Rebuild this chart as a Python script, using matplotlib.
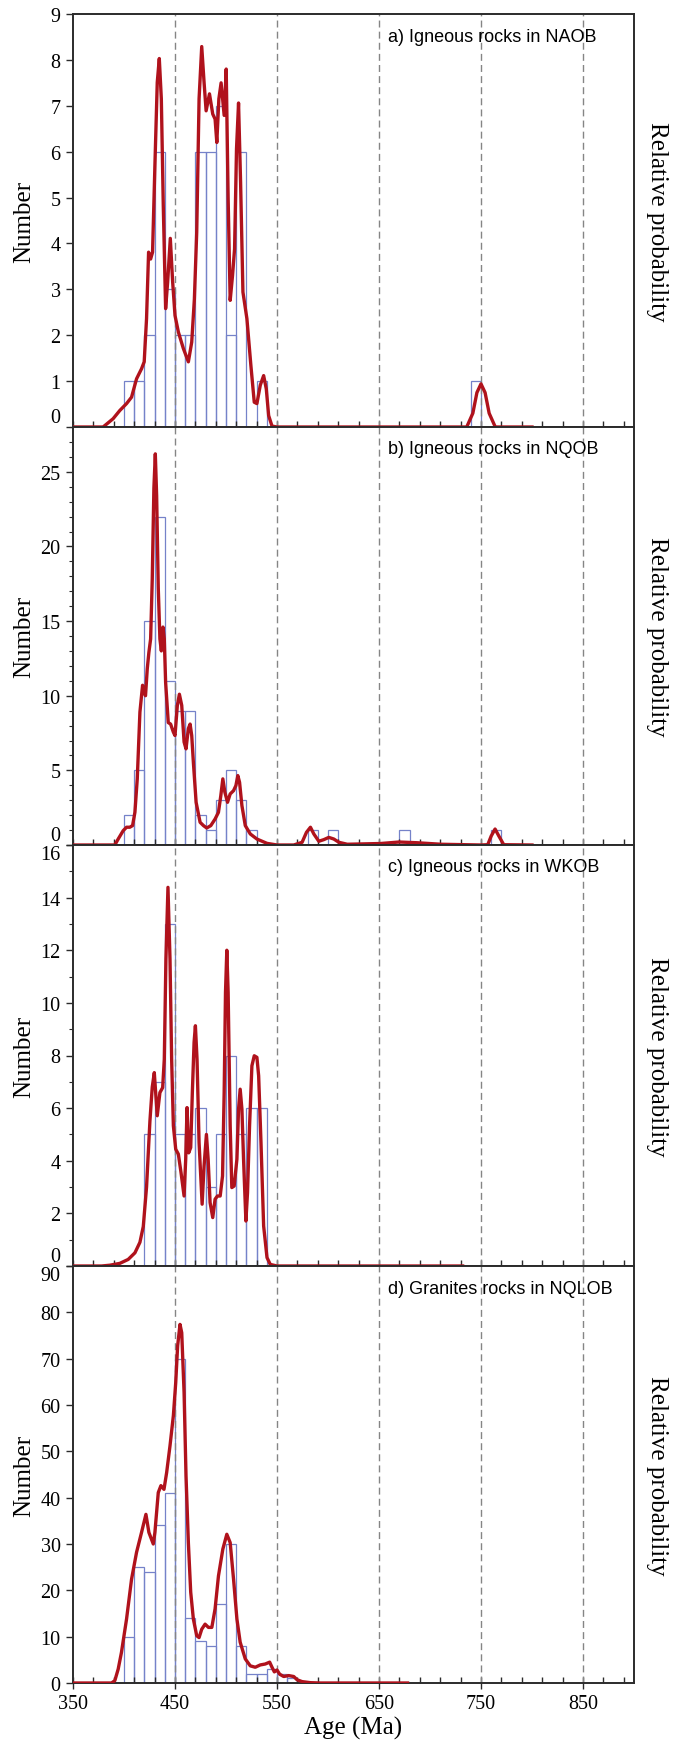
"""Age spectra: histogram (Number) + probability density curve for four belts."""

import numpy as np
import matplotlib
matplotlib.use("Agg")
import matplotlib.pyplot as plt
from matplotlib.ticker import MultipleLocator, AutoMinorLocator, FixedLocator

plt.rcParams["font.family"] = "Liberation Serif"

# ── data ────────────────────────────────────────────────────────────────────
BIN_WIDTH = 10  # Ma
guide_ages = [450, 550, 650, 750, 850]

titles = [
    "a) Igneous rocks in NAOB",
    "b) Igneous rocks in NQOB",
    "c) Igneous rocks in WKOB",
    "d) Granites rocks in NQLOB",
]

# histogram bins: left edge (Ma) and count
a_bins = [400, 410, 420, 430, 440, 450, 460, 470, 480, 490, 500, 510, 530, 740]
a_counts = [1, 1, 2, 6, 3, 2, 2, 6, 6, 7, 2, 6, 1, 1]

b_bins = [400, 410, 420, 430, 440, 450, 460, 470, 480, 490, 500, 510, 520, 580, 600, 670, 760]
b_counts = [2, 5, 15, 22, 11, 9, 9, 2, 1, 3, 5, 3, 1, 1, 1, 1, 1]

c_bins = [420, 430, 440, 450, 460, 470, 480, 490, 500, 510, 520, 530]
c_counts = [5, 7, 13, 5, 5, 6, 3, 5, 8, 5, 6, 6]

d_bins = [400, 410, 420, 430, 440, 450, 460, 470, 480, 490, 500, 510, 520, 530, 540, 550, 560]
d_counts = [10, 25, 24, 34, 41, 70, 14, 9, 8, 17, 30, 8, 2, 2, 3, 2, 1]

# probability curves (age Ma, value in left-axis units)
a_curve = [
    (350, 0), (379.5, 0), (389.3, 0.18), (395.9, 0.36), (402.5, 0.51), (407.4, 0.65),
    (412.3, 1.05), (417.2, 1.27), (419.8, 1.42), (422.1, 2.36), (424.1, 3.81), (426.1, 3.66),
    (428.0, 3.81), (430.3, 5.70), (432.6, 7.51), (434.6, 8.03), (436.6, 7.15), (438.5, 4.83),
    (440.8, 2.58), (442.8, 3.16), (445.4, 4.11), (447.7, 3.16), (450.0, 2.43), (453.3, 2.07),
    (458.2, 1.71), (463.1, 1.42), (466.4, 1.85), (469.0, 2.79), (471.3, 4.25), (473.6, 7.15),
    (476.2, 8.29), (478.5, 7.51), (480.5, 6.89), (483.8, 7.26), (487.0, 6.82), (489.3, 6.71),
    (491.0, 6.20), (493.0, 7.15), (495.2, 7.50), (498.2, 6.79), (500.2, 7.80), (502.1, 4.97),
    (504.1, 2.76), (506.4, 3.30), (508.4, 3.88), (510.3, 6.06), (512.3, 7.06), (514.3, 5.33),
    (516.6, 2.94), (520.5, 2.36), (524.4, 1.34), (527.7, 0.54), (530.3, 0.51), (533.6, 0.91),
    (536.9, 1.12), (539.5, 0.83), (541.8, 0.25), (545.1, 0.02), (550, 0), (736, 0),
    (742, 0.30), (746, 0.75), (750, 0.94), (754, 0.75), (758, 0.30), (764, 0), (800, 0),
]

b_curve = [
    (350, 0), (391.0, 0), (394.3, 0.4), (399.2, 0.96), (402.5, 1.19), (405.7, 1.19),
    (408.4, 1.3), (410.7, 2.19), (413.0, 4.43), (415.6, 8.9), (418.2, 10.7), (419.5, 10.24),
    (421.1, 10.0), (422.8, 11.8), (424.4, 12.9), (426.1, 13.8), (427.7, 17.8), (429.3, 23.9),
    (430.7, 26.2), (432.0, 23.4), (433.6, 17.2), (435.2, 13.8), (436.6, 13.0), (438.2, 14.6),
    (439.5, 13.8), (440.8, 10.9), (443.4, 8.2), (445.7, 8.1), (448.4, 7.56), (450.0, 7.33),
    (452.3, 9.35), (454.3, 10.1), (456.6, 9.35), (458.9, 6.9), (460.8, 6.44), (463.1, 7.8),
    (464.8, 8.1), (466.4, 7.33), (468.0, 5.55), (470.7, 2.86), (474.6, 1.52), (477.9, 1.3),
    (481.1, 1.14), (485.1, 1.3), (489.3, 1.74), (492.6, 2.19), (494.9, 3.3), (496.9, 4.43),
    (498.9, 3.53), (501.5, 2.86), (504.1, 3.42), (507.4, 3.64), (509.7, 3.98), (511.6, 4.65),
    (513.3, 4.2), (515.6, 2.64), (518.9, 1.3), (523.8, 0.74), (530.3, 0.4), (540.2, 0.11),
    (550, 0), (566.4, 0), (574.6, 0.18), (578.9, 0.85), (582.8, 1.19), (586.1, 0.74),
    (591.0, 0.25), (595.9, 0.36), (600.8, 0.51), (605.7, 0.4), (610.7, 0.18), (618.9, 0.05),
    (651.6, 0.1), (669.7, 0.2), (687.7, 0.15), (710.7, 0.05), (750, 0), (756.6, 0.02),
    (760, 0.6), (763.8, 1.07), (767.5, 0.6), (772.3, 0.02), (800, 0),
]

c_curve = [
    (350, 0), (378, 0), (386.1, 0.03), (395.9, 0.1), (404.1, 0.25), (410.7, 0.5),
    (415.6, 0.9), (418.9, 1.5), (422.1, 3.0), (425.4, 5.5), (427.7, 6.8), (429.7, 7.35),
    (432.6, 5.71), (435.2, 6.59), (437.9, 6.78), (439.5, 7.86), (441.1, 11.67), (443.1, 14.39),
    (445.1, 11.67), (446.7, 7.86), (448.4, 5.33), (450.7, 4.44), (453.3, 4.25), (455.9, 3.55),
    (458.9, 2.66), (460.5, 4.06), (461.8, 6.02), (463.4, 4.3), (465.4, 4.5), (467.0, 6.59),
    (468.7, 8.5), (470.0, 9.13), (471.6, 7.86), (473.6, 4.69), (476.6, 2.35), (478.5, 3.8),
    (480.8, 5.0), (482.5, 4.06), (484.4, 2.41), (487.0, 1.84), (489.3, 2.54), (491.6, 2.66),
    (494.3, 2.66), (496.6, 3.42), (498.2, 6.59), (499.5, 10.4), (500.8, 12.0), (502.1, 10.4),
    (504.1, 5.33), (505.7, 2.98), (508.0, 3.04), (510.7, 4.06), (512.3, 5.96), (513.9, 6.72),
    (515.6, 5.96), (517.2, 4.06), (519.5, 1.71), (521.1, 2.79), (523.1, 5.33), (525.4, 7.61),
    (527.7, 7.99), (530.3, 7.93), (532.0, 7.23), (534.3, 4.69), (536.9, 1.52), (540.2, 0.32),
    (543.4, 0.06), (550, 0), (732, 0),
]

d_curve = [
    (350, 0), (387.7, 0), (391.0, 0.5), (394.3, 3.0), (397.5, 6.6), (402.5, 13.8),
    (407.4, 22.4), (412.3, 28.2), (417.2, 32.5), (421.5, 36.4), (424.4, 32.5), (428.7, 30.0),
    (430.3, 32.5), (433.6, 41.1), (436.2, 42.6), (439.2, 41.8), (441.8, 45.4), (445.1, 51.2),
    (448.4, 57.7), (450.7, 64.8), (452.6, 72.8), (454.9, 77.4), (456.6, 75.6), (458.9, 62.7),
    (460.8, 44.7), (463.1, 30.3), (465.4, 19.6), (468.0, 13.8), (471.3, 10.2), (473.6, 9.8),
    (476.2, 11.6), (479.5, 12.7), (482.8, 12.0), (486.1, 12.0), (489.3, 16.0), (492.6, 23.1),
    (496.9, 28.9), (500.8, 32.1), (504.1, 30.3), (507.4, 22.4), (510.7, 13.8), (513.9, 8.8),
    (518.9, 5.2), (523.8, 3.7), (528.7, 3.4), (533.6, 3.9), (538.5, 4.1), (542.8, 4.5),
    (545.1, 3.4), (547.4, 2.4), (550.0, 2.8), (552.6, 1.9), (556.6, 1.4), (561.5, 1.6),
    (566.4, 1.4), (569.7, 0.7), (574.6, 0.3), (582.8, 0.07), (592.6, 0), (678, 0),
]

y_max = [9, 28, 16, 90]
y_major = [1, 5, 2, 10]
y_minor = [None, 1, 1, None]

# ── layout (pixels of the 684 x 1749 target) ─────────────────────────────────
W, H = 684, 1749
LEFT, RIGHT = 73, 634
panel_px = [(15, 428), (428, 846), (846, 1267), (1267, 1684)]

CURVE_COLOR = "#b0121c"
BAR_COLOR = "#7582c9"
GUIDE_COLOR = "#858585"
SPINE_COLOR = "#2b2b2b"

panels = [
    (a_bins, a_counts, a_curve),
    (b_bins, b_counts, b_curve),
    (c_bins, c_counts, c_curve),
    (d_bins, d_counts, d_curve),
]

fig = plt.figure(figsize=(W / 100, H / 100), dpi=100)

for i, (bins, counts, curve) in enumerate(panels):
    top, bottom = panel_px[i]
    ax = fig.add_axes([LEFT / W, 1 - bottom / H, (RIGHT - LEFT) / W, (bottom - top) / H])
    ax.set_xlim(350, 900)
    ax.set_ylim(0, y_max[i])

    ax.bar(bins, counts, width=BIN_WIDTH, align="edge", fill=False,
           edgecolor=BAR_COLOR, linewidth=0.9, zorder=1)
    for g in guide_ages:
        ax.axvline(g, color=GUIDE_COLOR, linestyle=(0, (5, 3)), linewidth=1.0, zorder=2)

    ax2 = ax.twinx()
    ax2.set_ylim(0, y_max[i])
    ax2.set_yticks([])
    ages, vals = zip(*curve)
    ax2.plot(ages, vals, color=CURVE_COLOR, linewidth=2.4, solid_joinstyle="round", zorder=3)

    for a in (ax, ax2):
        for s in a.spines.values():
            s.set_color(SPINE_COLOR)
            s.set_linewidth(1.2)

    # x axis
    ax.xaxis.set_major_locator(FixedLocator([350, 450, 550, 650, 750, 850]))
    ax.xaxis.set_minor_locator(AutoMinorLocator(5))
    ax.tick_params(axis="x", which="major", direction="inout", length=8, width=1.0,
                   color=SPINE_COLOR, labelsize=14.5, pad=4)
    ax.tick_params(axis="x", which="minor", direction="in", length=4, width=1.0,
                   color=SPINE_COLOR)
    if i < 3:
        ax.tick_params(axis="x", which="both", labelbottom=False)

    # y axis
    ax.set_yticks(np.arange(0, y_max[i] + 1, y_major[i]))
    if y_minor[i]:
        ax.yaxis.set_minor_locator(MultipleLocator(y_minor[i]))
    ax.tick_params(axis="y", which="major", direction="out", length=5, width=1.0,
                   color=SPINE_COLOR, labelsize=14.5, pad=4)
    ax.tick_params(axis="y", which="minor", direction="out", length=3, width=0.8,
                   color=SPINE_COLOR)
    fig.canvas.draw()
    # nudge labels at the panel joins so neighbouring labels do not collide
    for t in ax.yaxis.get_major_ticks():
        loc = t.get_loc()
        if loc == 0 and i < 3:
            t.label1.set_va("bottom")
        if loc == y_max[i] and i in (2, 3):
            t.label1.set_va("top")

    ax.set_ylabel("Number", fontsize=18)
    ax.yaxis.set_label_coords(-0.068, 0.5)
    ax.text(1.041, 0.5, "Relative probability", transform=ax.transAxes,
            rotation=270, ha="center", va="center", fontsize=18)
    ax.text(0.561, 1 - 22 / (bottom - top), titles[i], transform=ax.transAxes,
            ha="left", va="center", fontsize=13, family="Liberation Sans")

    if i == 3:
        ax.set_xlabel("Age (Ma)", fontsize=18, labelpad=2)

fig.savefig("out.png", dpi=100)
